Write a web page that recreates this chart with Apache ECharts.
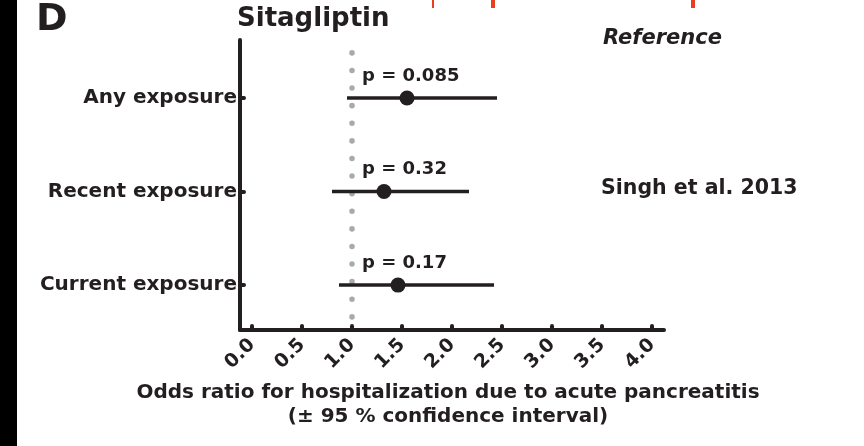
<!DOCTYPE html>
<html><head><meta charset="utf-8">
<script src="https://cdn.jsdelivr.net/npm/echarts@6/dist/echarts.min.js"></script>
<style>html,body{margin:0;padding:0;background:#fff}#c{width:864px;height:446px}</style>
</head><body><div id="c"></div>
<script>
var categories = ['Current exposure', 'Recent exposure', 'Any exposure'];
var categoryPos = [1, 2, 3];
var oddsRatio = [1.46, 1.32, 1.55];
var ciLow = [0.87, 0.80, 0.95];
var ciHigh = [2.42, 2.17, 2.45];
var pLabels = ['p = 0.17', 'p = 0.32', 'p = 0.085'];
var xTicks = [0, 0.5, 1, 1.5, 2, 2.5, 3, 3.5, 4];
var referenceValue = 1;

var FONT = 'DejaVu Sans';
var INK = '#231f20';
var chart = echarts.init(document.getElementById('c'));
var ciData = categoryPos.map(function (y, i) { return [ciLow[i], ciHigh[i], y, i]; });
var ptData = categoryPos.map(function (y, i) { return [oddsRatio[i], y]; });

chart.setOption({
  animation: false,
  grid: { left: 240, right: 200, top: 40, bottom: 116 },
  xAxis: {
    type: 'value', min: -0.12, max: 4.12,
    splitLine: { show: false },
    axisLine: { onZero: false, lineStyle: { color: INK, width: 4 } },
    axisTick: { customValues: xTicks, inside: true, length: 4, lineStyle: { color: INK, width: 4, cap: 'round' } },
    axisLabel: {
      customValues: xTicks, rotate: 45, margin: 12,
      formatter: function (v) { return v.toFixed(1); },
      fontFamily: FONT, fontWeight: 'bold', fontSize: 19, color: INK
    }
  },
  yAxis: {
    type: 'value', min: 0.52, max: 3.62,
    splitLine: { show: false },
    axisLine: { onZero: false, lineStyle: { color: INK, width: 4 } },
    axisTick: { customValues: categoryPos, inside: true, length: 4, lineStyle: { color: INK, width: 4, cap: 'round' } },
    axisLabel: {
      customValues: categoryPos, margin: 3,
      formatter: function (v) { return categories[categoryPos.indexOf(v)] || ''; },
      fontFamily: FONT, fontWeight: 'bold', fontSize: 20, color: INK
    }
  },
  graphic: [
    { type: 'rect', left: 0, top: 0, shape: { width: 17, height: 446 }, style: { fill: '#000' } },
    { type: 'rect', left: 432, top: 0, shape: { width: 2, height: 8 }, style: { fill: '#e8401c' } },
    { type: 'rect', left: 491, top: 0, shape: { width: 4, height: 8 }, style: { fill: '#e8401c' } },
    { type: 'rect', left: 691, top: 0, shape: { width: 4, height: 8 }, style: { fill: '#e8401c' } },
    { type: 'text', x: 36, y: 20, style: { text: 'D', textVerticalAlign: 'middle', fontFamily: FONT, fontWeight: 'bold', fontSize: 38, fill: INK } },
    { type: 'text', x: 237, y: 19, style: { text: 'Sitagliptin', textVerticalAlign: 'middle', fontFamily: FONT, fontWeight: 'bold', fontSize: 26, fill: INK } },
    { type: 'text', x: 603, y: 39, style: { text: 'Reference', textVerticalAlign: 'middle', fontFamily: FONT, fontWeight: 'bold', fontStyle: 'italic', fontSize: 21, fill: INK } },
    { type: 'text', x: 601, y: 189, style: { text: 'Singh et al. 2013', textVerticalAlign: 'middle', fontFamily: FONT, fontWeight: 'bold', fontSize: 20.5, fill: INK } },
    { type: 'text', x: 448, y: 393, style: { text: 'Odds ratio for hospitalization due to acute pancreatitis', textAlign: 'center', textVerticalAlign: 'middle', fontFamily: FONT, fontWeight: 'bold', fontSize: 20, fill: INK } },
    { type: 'text', x: 448, y: 417, style: { text: '(± 95 % confidence interval)', textAlign: 'center', textVerticalAlign: 'middle', fontFamily: FONT, fontWeight: 'bold', fontSize: 20, fill: INK } }
  ],
  series: [
    {
      type: 'custom', data: ciData, silent: true, z: 3,
      renderItem: function (params, api) {
        var a = api.coord([api.value(0), api.value(2)]);
        var b = api.coord([api.value(1), api.value(2)]);
        var r = api.coord([referenceValue, api.value(2)]);
        return {
          type: 'group', children: [
            { type: 'line', shape: { x1: a[0], y1: a[1], x2: b[0], y2: b[1] }, style: { stroke: INK, lineWidth: 3.5 } },
            { type: 'text', x: r[0] + 10, y: r[1] - 22, style: { text: pLabels[api.value(3)], textVerticalAlign: 'middle', fontFamily: FONT, fontWeight: 'bold', fontSize: 18, fill: INK } }
          ]
        };
      }
    },
    {
      type: 'scatter', data: ptData, symbol: 'circle', symbolSize: 15, z: 4,
      itemStyle: { color: INK, opacity: 1 },
      markLine: {
        symbol: 'none', silent: true, label: { show: false }, z: 1,
        lineStyle: { color: '#aaa', width: 5.5, type: [0.1, 17.5], cap: 'round', opacity: 1 },
        data: [[{ coord: [referenceValue, 0.66] }, { coord: [referenceValue, 3.62] }]]
      }
    }
  ]
});
</script></body></html>
